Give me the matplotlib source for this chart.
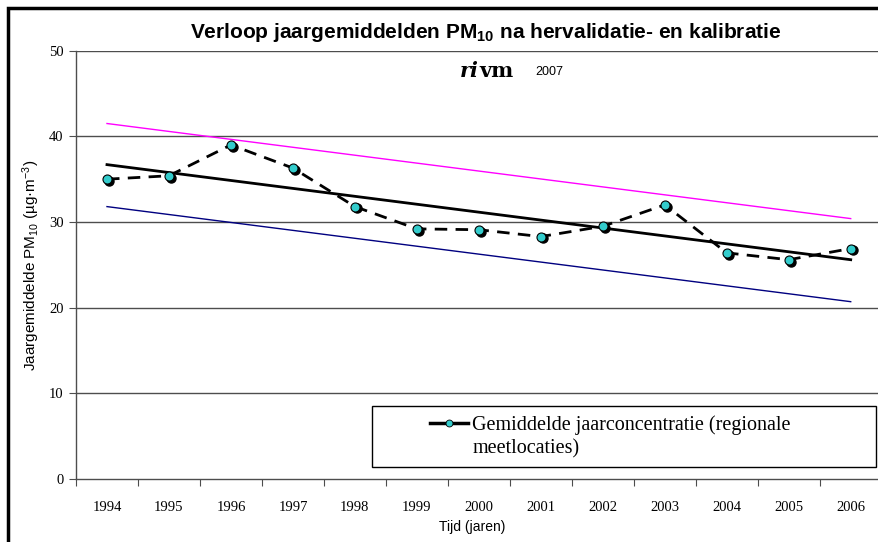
import numpy as np
import matplotlib
matplotlib.use("Agg")
import matplotlib.pyplot as plt
from matplotlib.lines import Line2D
from matplotlib.patches import Rectangle
from matplotlib.transforms import offset_copy

years = ["1994", "1995", "1996", "1997", "1998", "1999", "2000",
         "2001", "2002", "2003", "2004", "2005", "2006"]
pm10 = [35.0, 35.4, 39.0, 36.3, 31.8, 29.2, 29.1, 28.3, 29.5, 32.0, 26.4, 25.6, 26.9]
trend_ends = [36.7, 25.6]
upper_ends = [41.5, 30.4]
lower_ends = [31.8, 20.7]
yticks = [0, 10, 20, 30, 40, 50]
legend_lines = ["Gemiddelde jaarconcentratie (regionale", "meetlocaties)"]

plt.rcParams["mathtext.fontset"] = "custom"
plt.rcParams["mathtext.rm"] = "Liberation Sans"
plt.rcParams["mathtext.it"] = "Liberation Sans:italic"
plt.rcParams["mathtext.bf"] = "Liberation Sans:bold"

W, H = 879, 542
fig = plt.figure(figsize=(W / 100, H / 100), dpi=100)
fig.patch.set_facecolor("white")

# outer frame (left and top edges only visible)
fig.add_artist(Line2D([8 / W, 8 / W, 1.0], [0.0, 1 - 8 / H, 1 - 8 / H], transform=fig.transFigure,
                      color="black", linewidth=2.5, solid_joinstyle="miter"))

ax_l, ax_r, ax_t, ax_b = 76, 881.7, 50.7, 479
ax = fig.add_axes([ax_l / W, 1 - ax_b / H, (ax_r - ax_l) / W, (ax_b - ax_t) / H])

x = np.arange(len(years))
ax.set_xlim(-0.5, len(years) - 0.5)
ax.set_ylim(0, 50)

gridc = "#4d4d4d"
for yv in yticks[1:]:
    ax.axhline(yv, color=gridc, lw=1.0, zorder=1)

ends_x = [x[0], x[-1]]
ax.plot(ends_x, upper_ends, color="#FF00FF", lw=1.0, zorder=2)
ax.plot(ends_x, lower_ends, color="#000080", lw=1.0, zorder=2)
ax.plot(ends_x, trend_ends, color="black", lw=2.0, zorder=3)

ax.plot(x, pm10, color="black", lw=2.0, dashes=(4.5, 3), zorder=4)
shadow_tr = offset_copy(ax.transData, fig=fig, x=1.8, y=-1.8, units="dots")
ax.plot(x, pm10, ls="none", marker="o", ms=6.5, mfc="black", mec="black", zorder=5,
        transform=shadow_tr)
ax.plot(x, pm10, ls="none", marker="o", ms=6.5, mfc="#33CCCC", mec="black", mew=0.8, zorder=6)

for s in ["top", "right"]:
    ax.spines[s].set_visible(False)
for s in ["left", "bottom"]:
    ax.spines[s].set_color(gridc)
    ax.spines[s].set_linewidth(1.0)

ax.set_yticks(yticks)
ax.set_yticklabels([str(v) for v in yticks], fontfamily="Liberation Serif", fontsize=10.5)
ax.set_xticks(np.arange(len(years) + 1) - 0.5)
ax.set_xticklabels([])
ax.set_xticks(x, minor=True)
ax.set_xticklabels(years, minor=True, fontfamily="Liberation Serif", fontsize=10.5)
ax.tick_params(axis="x", which="minor", length=0, pad=16)
ax.tick_params(axis="x", which="major", length=5, direction="out", color=gridc)
ax.tick_params(axis="y", length=5, direction="out", color=gridc, pad=4)

fig.text(472 / W, 1 - 527 / H, "Tijd (jaren)", ha="center", va="center",
         fontfamily="Liberation Sans", fontsize=10)
fig.text(31 / W, 1 - 265 / H, "Jaargemiddelde PM$_{10}$ (µg·m$^{-3}$)", ha="center", va="center",
         rotation=90, fontfamily="Liberation Sans", fontsize=11)

fig.text(486 / W, 1 - 32 / H, r"Verloop jaargemiddelden PM$_{\mathbf{10}}$ na hervalidatie- en kalibratie",
         ha="center", va="center", fontfamily="Liberation Sans", fontweight="bold", fontsize=15)

# logo
fig.text(479 / W, 1 - 71 / H, "ri", ha="right", va="center", fontfamily="DejaVu Serif",
         fontweight="bold", fontstyle="italic", fontsize=15)
fig.text(479 / W, 1 - 71 / H, "vm", ha="left", va="center", fontfamily="DejaVu Serif",
         fontweight="bold", fontsize=15)
fig.text(535 / W, 1 - 72 / H, "2007", ha="left", va="center", fontfamily="Liberation Sans",
         fontsize=9)

# legend box
fig.add_artist(Rectangle((372 / W, 1 - 467 / H), (876 - 372) / W, (467 - 406) / H,
                         transform=fig.transFigure, fill=True, facecolor="white",
                         edgecolor="black", linewidth=1.0, zorder=10))
handle = Line2D([], [], color="black", lw=2.5, marker="o", ms=5, mfc="#33CCCC", mec="black", mew=0.6)
leg = fig.legend([handle], [legend_lines[0]],
                 loc="center left", bbox_to_anchor=(430 / W, 1 - 425 / H),
                 frameon=False, prop={"family": "Liberation Serif", "size": 14.5},
                 handlelength=1.9, handletextpad=0.2, borderpad=0, labelspacing=0,
                 borderaxespad=0)
leg.set_zorder(11)
fig.canvas.draw()
tb = leg.get_texts()[0].get_window_extent()
fig.text(tb.x0 / W, 1 - 449 / H, legend_lines[1], ha="left", va="center",
         fontfamily="Liberation Serif", fontsize=14.5, zorder=11)

fig.savefig("out.png", dpi=100)
